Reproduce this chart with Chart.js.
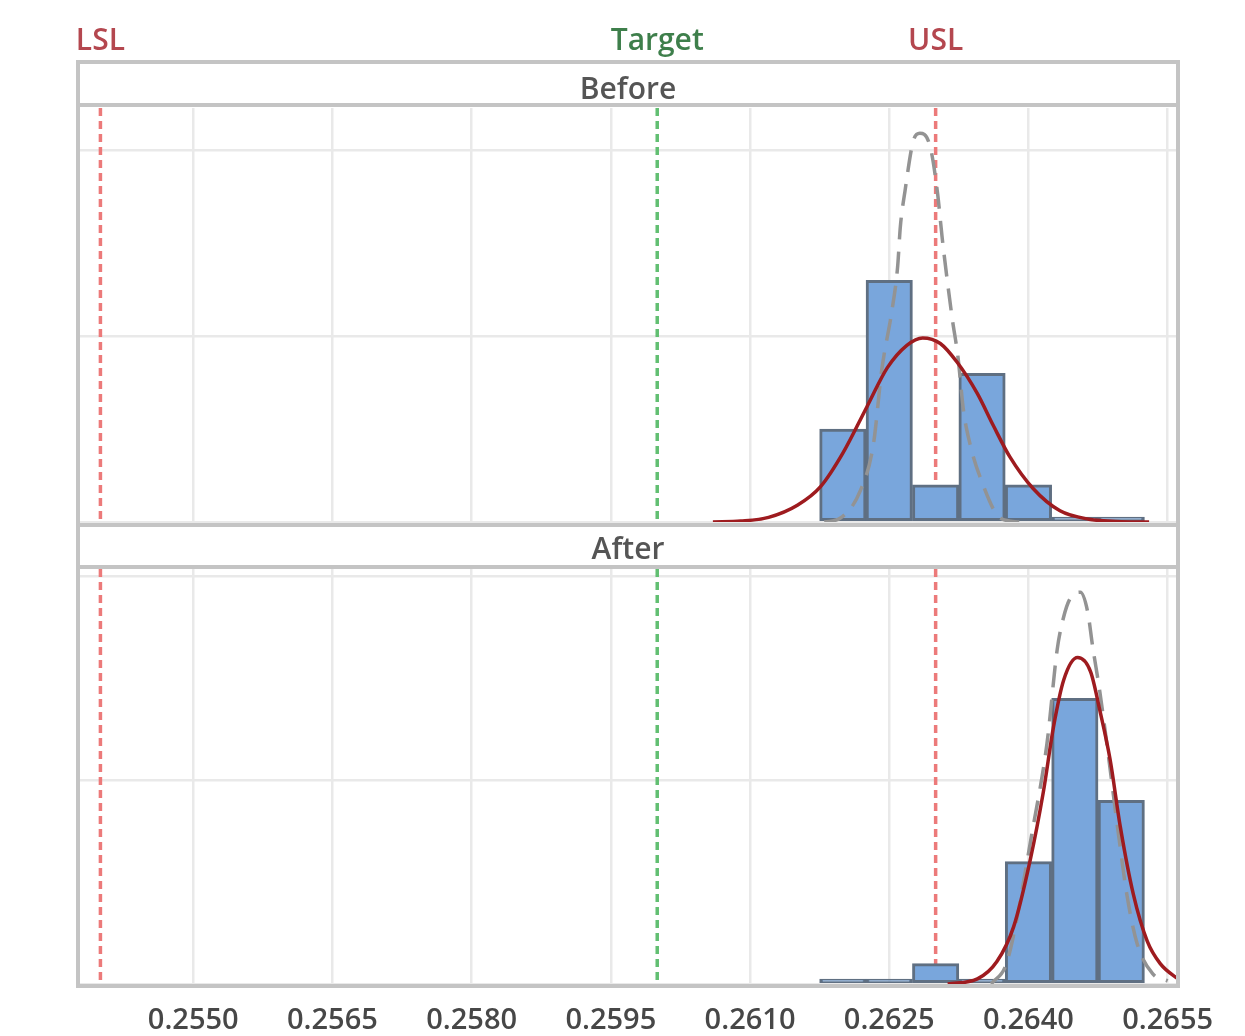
<!DOCTYPE html>
<html>
<head>
<meta charset="utf-8">
<script src="https://cdn.jsdelivr.net/npm/chart.js@4.4.0/dist/chart.umd.min.js"></script>
<style>
html, body { margin: 0; padding: 0; background: #fff; }
#wrap { position: relative; width: 1245px; height: 1036px; overflow: hidden; }
canvas { position: absolute; left: 0; }
#before { top: 0; }
#after { top: 527px; }
</style>
</head>
<body>
<div id="wrap">
<canvas id="before" width="1245" height="530" style="width:1245px;height:530px"></canvas>
<canvas id="after" width="1245" height="509" style="width:1245px;height:509px"></canvas>
</div>
<script>
// histogram bins (same bins for both panels)
const binCenters = [0.2620, 0.2625, 0.2630, 0.2635, 0.2640, 0.2645, 0.2650]
const beforeCounts = [5, 13, 2, 8, 2, 0, 0]
const afterCounts = [0, 0, 1, 0, 6, 14, 9]

// fitted curves
const beforeOverallX = [0.2606, 0.2609, 0.2612, 0.26151, 0.26176, 0.2620, 0.26226, 0.26248, 0.26269, 0.26286, 0.26305, 0.26323, 0.26345, 0.26362, 0.2638, 0.26405, 0.26434, 0.26465, 0.2650, 0.2653]
const beforeOverallY = [0, 0.05, 0.25, 0.9, 1.9, 3.7, 6.2, 8.3, 9.5, 9.9, 9.6, 8.6, 6.9, 5.2, 3.5, 1.8, 0.6, 0.15, 0.02, 0]
const beforeWithinX = [0.2618, 0.26197, 0.26219, 0.26233, 0.26242, 0.26253, 0.26259, 0.26262, 0.26267, 0.26276, 0.26283, 0.26294, 0.26302, 0.26307, 0.26312, 0.26318, 0.26324, 0.2633, 0.26337, 0.26348, 0.2637, 0.2639]
const beforeWithinY = [0, 0.2, 1.7, 4.2, 8.2, 11.4, 13.7, 15.9, 17.8, 20.5, 20.9, 20.2, 17.7, 15.3, 13.2, 10.9, 8.9, 6.0, 4.2, 2.4, 0.2, 0]

const afterOverallX = [0.26313, 0.26345, 0.26366, 0.26384, 0.26402, 0.26416, 0.26427, 0.26438, 0.26453, 0.26467, 0.26477, 0.26488, 0.26499, 0.26513, 0.26528, 0.26542, 0.26564]
const afterOverallY = [0, 0.25, 1.1, 2.8, 6.1, 9.4, 12.6, 14.9, 16.0, 15.3, 13.4, 11.0, 7.7, 4.4, 2.1, 1.0, 0.15]
const afterWithinX = [0.2636, 0.26377, 0.26405, 0.2642, 0.26431, 0.26438, 0.26445, 0.26456, 0.26464, 0.26469, 0.26477, 0.26485, 0.26496, 0.26506, 0.26517, 0.26534, 0.2655]
const afterWithinY = [0, 1.1, 7.7, 11.8, 16.4, 18.0, 18.9, 19.2, 18.2, 16.6, 14.3, 11.6, 7.7, 4.4, 2.0, 0.5, 0.15]

// spec limits
const specNames = ["LSL", "Target", "USL"]
const specValues = [0.2540, 0.2600, 0.2630]
const specLineColors = ["#ec7a7a", "#62bf72", "#ec7a7a"]
const specTextColors = ["#b4474f", "#3e7f4b", "#b4474f"]

const xTicks = [0.2550, 0.2565, 0.2580, 0.2595, 0.2610, 0.2625, 0.2640, 0.2655]
const yGrid = [0, 10, 20]
const xMin = 0.25378
const xMax = 0.26559
const beforeYMax = 22.26
const afterYMax = 20.34

const FONT = '"Open Sans", "Liberation Sans", sans-serif'
const FRAME = "#c4c4c4"

const pts = (xs, ys) => xs.map((v, i) => ({ x: v, y: ys[i] }))

function datasets(counts, ox, oy, wx, wy) {
    return [
        {
            type: "bar", data: pts(binCenters, counts),
            backgroundColor: "#79a6dc", borderColor: "#5f6f82", borderWidth: 3,
            borderSkipped: false, barPercentage: 1, categoryPercentage: 1,
            minBarLength: 5, order: 3
        },
        {
            type: "line", data: pts(wx, wy),
            borderColor: "#939393", borderWidth: 3.5, borderDash: [22, 12],
            pointRadius: 0, cubicInterpolationMode: "monotone", fill: false, order: 2
        },
        {
            type: "line", data: pts(ox, oy),
            borderColor: "#9e1b1f", borderWidth: 3.5,
            pointRadius: 0, cubicInterpolationMode: "monotone", fill: false, order: 1
        }
    ]
}

function xScale(showLabels) {
    return {
        type: "linear", min: xMin, max: xMax, offset: false,
        afterBuildTicks: s => { s.ticks = xTicks.map(v => ({ value: v })) },
        afterFit: s => { s.height = showLabels ? 52 : 0 },
        grid: { color: "#e9e9e9", lineWidth: 2.5, drawTicks: false, offset: false },
        border: { display: false },
        ticks: {
            display: showLabels, padding: 19, color: "#474747", maxRotation: 0, autoSkip: false,
            font: { family: FONT, size: 29, weight: "600" },
            callback: v => v.toFixed(4)
        }
    }
}

function yScale(max) {
    return {
        min: 0, max: max,
        afterBuildTicks: s => { s.ticks = yGrid.map(v => ({ value: v })) },
        afterFit: s => { s.width = 0 },
        grid: { color: "#e9e9e9", lineWidth: 2.5, drawTicks: false },
        border: { display: false },
        ticks: { display: false }
    }
}

function line(ctx, x1, y1, x2, y2) {
    ctx.beginPath(); ctx.moveTo(x1, y1); ctx.lineTo(x2, y2); ctx.stroke()
}

/* spec lines, frame, strip header */
const panelPlugin = {
    id: "panel",
    beforeDatasetsDraw(chart) {
        const { ctx, chartArea: a, scales: { x } } = chart
        ctx.save()
        ctx.lineWidth = 3.5
        ctx.setLineDash([8, 5])
        specValues.forEach((v, i) => {
            const px = x.getPixelForValue(v)
            ctx.strokeStyle = specLineColors[i]
            line(ctx, px, a.top, px, a.bottom)
        })
        ctx.restore()
    },
    afterDraw(chart, args, opts) {
        const { ctx, chartArea: a, scales: { x } } = chart
        const mid = (a.left + a.right) / 2
        ctx.save()
        ctx.strokeStyle = FRAME
        ctx.lineWidth = 4
        if (opts.first) {
            const top = 62
            line(ctx, a.left - 4, top, a.right + 4, top)
            line(ctx, a.left - 2, top, a.left - 2, chart.height)
            line(ctx, a.right + 2, top, a.right + 2, chart.height)
            line(ctx, a.left, a.top - 3, a.right, a.top - 3)
            line(ctx, a.left, a.bottom + 3, a.right, a.bottom + 3)
        } else {
            line(ctx, a.left - 2, 0, a.left - 2, a.bottom + 4)
            line(ctx, a.right + 2, 0, a.right + 2, a.bottom + 4)
            line(ctx, a.left, a.top - 2, a.right, a.top - 2)
            line(ctx, a.left - 4, a.bottom + 2, a.right + 4, a.bottom + 2)
        }
        ctx.textAlign = "center"
        ctx.textBaseline = "middle"
        ctx.font = "600 30px " + FONT
        ctx.fillStyle = "#555"
        ctx.fillText(opts.name, mid, opts.first ? 90 : 23)
        if (opts.first) {
            specNames.forEach((n, i) => {
                ctx.fillStyle = specTextColors[i]
                ctx.fillText(n, x.getPixelForValue(specValues[i]), 41)
            })
        }
        ctx.restore()
    }
}

function makeChart(id, name, first, counts, ox, oy, wx, wy, ymax) {
    return new Chart(document.getElementById(id), {
        type: "bar",
        data: { datasets: datasets(counts, ox, oy, wx, wy) },
        options: {
            responsive: false,
            animation: false,
            layout: { padding: first ? { left: 80, right: 69, top: 108, bottom: 8 } : { left: 80, right: 69, top: 42, bottom: 0 } },
            plugins: {
                legend: { display: false },
                tooltip: { enabled: false },
                panel: { name: name, first: first }
            },
            scales: { x: xScale(!first), y: yScale(ymax) }
        },
        plugins: [panelPlugin]
    })
}

makeChart("before", "Before", true, beforeCounts, beforeOverallX, beforeOverallY, beforeWithinX, beforeWithinY, beforeYMax)
makeChart("after", "After", false, afterCounts, afterOverallX, afterOverallY, afterWithinX, afterWithinY, afterYMax)
</script>
</body>
</html>
